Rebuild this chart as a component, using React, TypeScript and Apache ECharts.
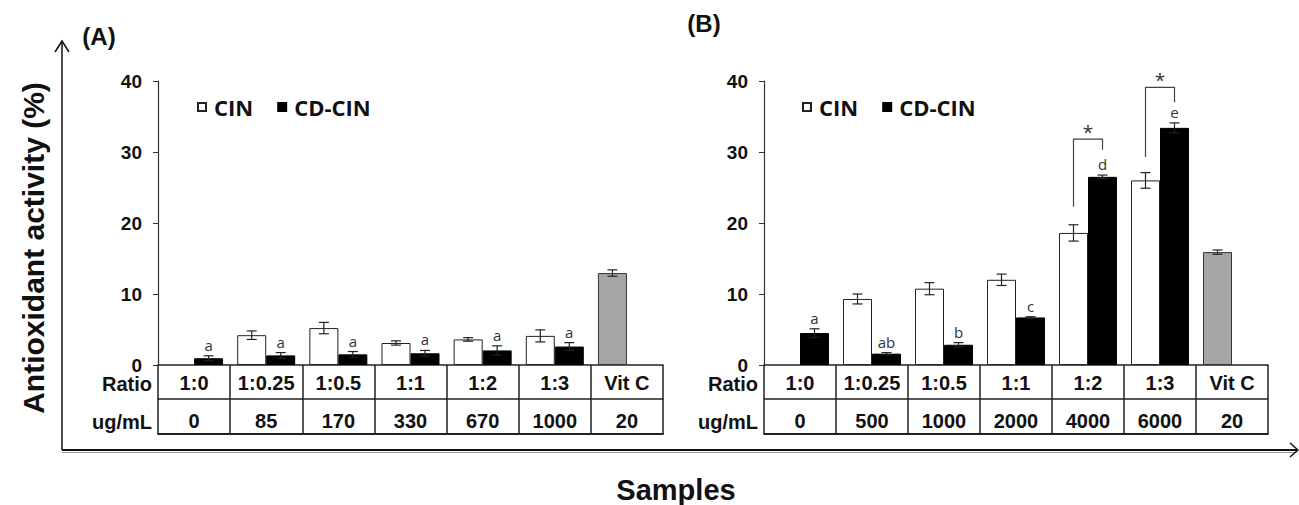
import React, { useEffect, useRef } from 'react';
import * as echarts from 'echarts';

// ---------- data ----------
const ratioLabels = ['1:0', '1:0.25', '1:0.5', '1:1', '1:2', '1:3', 'Vit C'];
const concA = ['0', '85', '170', '330', '670', '1000', '20'];
const concB = ['0', '500', '1000', '2000', '4000', '6000', '20'];

// Panel A
const cinA = [null, 4.2, 5.2, 3.1, 3.6, 4.1];
const cinErrA = [null, 0.6, 0.8, 0.3, 0.25, 0.85];
const cdA = [0.95, 1.35, 1.5, 1.65, 2.05, 2.6];
const cdErrA = [0.35, 0.4, 0.4, 0.4, 0.65, 0.55];
const lettersA = ['a', 'a', 'a', 'a', 'a', 'a'];
const vitCA = 12.95;
const vitCErrA = 0.45;

// Panel B
const cinB = [null, 9.3, 10.75, 12.0, 18.6, 26.0];
const cinErrB = [null, 0.7, 0.85, 0.8, 1.15, 1.1];
const cdB = [4.5, 1.6, 2.85, 6.7, 26.5, 33.4];
const cdErrB = [0.6, 0.15, 0.3, 0.1, 0.25, 0.7];
const lettersB = ['a', 'ab', 'b', 'c', 'd', 'e'];
const vitCB = 15.9;
const vitCErrB = 0.3;

// significance brackets (panel B), in axis units
const sigCats = [4, 5];
const sigFrom = [22.3, 29.3];
const sigTop = [31.8, 39.1];
const sigTo = [30.3, 37.0];

// ---------- styles ----------
const BAR_W = 29;
const HALF = BAR_W / 2;
const LINE = '#222';
const GREY = '#a6a6a6';
const ARIAL = '"Liberation Sans", Arial, sans-serif';
const SANS = '"Open Sans", "Noto Sans", sans-serif';

type Item = { cat: number; mean: number; err: number; side: number; letter: string };

function buildErrItems(cin: (number | null)[], cinErr: (number | null)[], cd: number[], cdErr: number[], letters: string[], vit: number, vitErr: number): Item[] {
  const items: Item[] = [];
  cin.forEach((m, i) => {
    if (m != null) items.push({ cat: i, mean: m, err: cinErr[i] as number, side: -1, letter: '' });
  });
  cd.forEach((m, i) => {
    items.push({ cat: i, mean: m, err: cdErr[i], side: 1, letter: letters[i] });
  });
  items.push({ cat: cin.length, mean: vit, err: vitErr, side: -1, letter: '' });
  return items;
}

function errSeries(items: Item[], xi: number, yi: number) {
  return {
    type: 'custom',
    xAxisIndex: xi,
    yAxisIndex: yi,
    z: 10,
    clip: false,
    silent: true,
    itemStyle: { color: '#333' },
    data: items.map((it) => [it.cat, it.mean, it.err]),
    renderItem: (params: any, api: any) => {
      const it = items[params.dataIndex];
      const c = api.coord([it.cat, it.mean]);
      const x = c[0] + it.side * HALF;
      const yT = api.coord([it.cat, it.mean + it.err])[1];
      const yB = api.coord([it.cat, it.mean - it.err])[1];
      const st = { stroke: LINE, lineWidth: 1.2 };
      const children: any[] = [
        { type: 'line', shape: { x1: x, y1: yT, x2: x, y2: yB }, style: st },
        { type: 'line', shape: { x1: x - 5, y1: yT, x2: x + 5, y2: yT }, style: st },
        { type: 'line', shape: { x1: x - 5, y1: yB, x2: x + 5, y2: yB }, style: st },
      ];
      if (it.letter) {
        children.push({
          type: 'text',
          style: {
            text: it.letter, x, y: yT - 11, align: 'center', verticalAlign: 'middle',
            fontSize: 15, fontFamily: SANS, fill: '#333', stroke: null,
          },
        });
      }
      return { type: 'group', children };
    },
  };
}

function sigSeries(xi: number, yi: number) {
  return {
    type: 'custom',
    xAxisIndex: xi,
    yAxisIndex: yi,
    z: 10,
    clip: false,
    silent: true,
    itemStyle: { color: '#333' },
    data: sigCats.map((c, i) => [c, sigTop[i]]),
    renderItem: (params: any, api: any) => {
      const i = params.dataIndex;
      const cat = sigCats[i];
      const cx = api.coord([cat, 0])[0];
      const xL = cx - HALF;
      const xR = cx + HALF;
      const yF = api.coord([cat, sigFrom[i]])[1];
      const yT = api.coord([cat, sigTop[i]])[1];
      const yE = api.coord([cat, sigTo[i]])[1];
      return {
        type: 'group',
        children: [
          { type: 'polyline', shape: { points: [[xL, yF], [xL, yT], [xR, yT], [xR, yE]] }, style: { stroke: '#444', lineWidth: 1.2, fill: null } },
          { type: 'text', style: { text: '*', x: (xL + xR) / 2, y: yT - 7, align: 'center', verticalAlign: 'middle', fontSize: 19, fontFamily: SANS, fill: '#333', stroke: null } },
        ],
      };
    },
  };
}

function barData(vals: (number | null)[], vit?: number) {
  const d: any[] = vals.map((v) => v);
  if (vit !== undefined) d.push({ value: vit, itemStyle: { color: GREY, borderColor: '#333' } });
  else d.push(null);
  return d;
}

function xAxesFor(grid: number, conc: string[]) {
  const lab = { fontSize: 20, fontWeight: 'bold', color: '#111', fontFamily: ARIAL, interval: 0 };
  return [
    {
      type: 'category', gridIndex: grid, data: ratioLabels, position: 'bottom',
      axisLine: { show: true, lineStyle: { color: LINE, width: 1.5 } },
      axisTick: { show: true, length: 69, interval: 0, lineStyle: { color: LINE, width: 1.5 } },
      axisLabel: { ...lab, margin: 9, lineHeight: 18 },
    },
    {
      type: 'category', gridIndex: grid, data: conc, position: 'bottom', offset: 34,
      axisLine: { show: true, lineStyle: { color: LINE, width: 1.5 } },
      axisTick: { show: false },
      axisLabel: { ...lab, margin: 13, lineHeight: 18 },
    },
    {
      type: 'category', gridIndex: grid, data: conc, position: 'bottom', offset: 69,
      axisLine: { show: true, lineStyle: { color: LINE, width: 1.8 } },
      axisTick: { show: false },
      axisLabel: { show: false },
    },
  ];
}

function yAxisFor(grid: number) {
  return {
    type: 'value', gridIndex: grid, min: 0, max: 40, interval: 10,
    axisLine: { show: true, lineStyle: { color: '#333', width: 1.2 } },
    axisTick: { show: true, length: 5, lineStyle: { color: '#333' } },
    splitLine: { show: false },
    axisLabel: { margin: 16, fontSize: 19, lineHeight: 15, fontWeight: 'bold', color: '#111', fontFamily: ARIAL },
  };
}

function legendFor(left: number) {
  return {
    left, top: 96, padding: 0, orient: 'horizontal',
    data: ['CIN', 'CD-CIN'], icon: 'rect', itemWidth: 8, itemHeight: 8, itemGap: 24,
    selectedMode: false,
    textStyle: { fontSize: 22, fontWeight: 'bold', color: '#111', fontFamily: SANS, padding: [0, 0, 0, 3] },
  };
}

export default function App() {
  const ref = useRef<HTMLDivElement>(null);
  useEffect(() => {
    if (!ref.current) return;
    const chart = echarts.init(ref.current, undefined, { renderer: 'svg' });
    const barBase = { type: 'bar', barWidth: BAR_W, barGap: '0%' };
    const cinStyle = { color: '#fff', borderColor: LINE, borderWidth: 1 };
    const cdStyle = { color: '#000', borderColor: '#000', borderWidth: 1 };
    const itemsA = buildErrItems(cinA, cinErrA, cdA, cdErrA, lettersA, vitCA, vitCErrA);
    const itemsB = buildErrItems(cinB, cinErrB, cdB, cdErrB, lettersB, vitCB, vitCErrB);

    const rowLab = (x: number, y: number, t: string) => ({
      type: 'text', x, y, style: { text: t, align: 'right', verticalAlign: 'middle', fontSize: 20, lineHeight: 16, fontWeight: 'bold', fontFamily: ARIAL, fill: '#111' },
    });

    chart.setOption({
      animation: false,
      backgroundColor: '#fff',
      grid: [
        { left: 158, top: 81, width: 505, height: 284 },
        { left: 764, top: 81, width: 504, height: 284 },
      ],
      xAxis: [...xAxesFor(0, concA), ...xAxesFor(1, concB)],
      yAxis: [yAxisFor(0), yAxisFor(1)],
      legend: [legendFor(197), legendFor(802)],
      series: [
        { ...barBase, name: 'CIN', xAxisIndex: 0, yAxisIndex: 0, itemStyle: cinStyle, data: barData(cinA, vitCA) },
        { ...barBase, name: 'CD-CIN', xAxisIndex: 0, yAxisIndex: 0, itemStyle: cdStyle, data: barData(cdA) },
        { ...barBase, name: 'CIN', xAxisIndex: 3, yAxisIndex: 1, itemStyle: cinStyle, data: barData(cinB, vitCB) },
        { ...barBase, name: 'CD-CIN', xAxisIndex: 3, yAxisIndex: 1, itemStyle: cdStyle, data: barData(cdB) },
        errSeries(itemsA, 0, 0),
        errSeries(itemsB, 3, 1),
        sigSeries(3, 1),
      ],
      graphic: [
        // outer frame axes
        { type: 'line', shape: { x1: 62, y1: 450, x2: 62, y2: 41 }, style: { stroke: '#111', lineWidth: 1.5 } },
        { type: 'polyline', shape: { points: [[55, 52], [62, 41], [69, 52]] }, style: { stroke: '#111', lineWidth: 1.5, fill: null } },
        { type: 'line', shape: { x1: 62, y1: 450, x2: 1297, y2: 450 }, style: { stroke: '#111', lineWidth: 2 } },
        { type: 'line', shape: { x1: 62, y1: 452.5, x2: 1297, y2: 452.5 }, style: { stroke: '#999', lineWidth: 1 } },
        { type: 'polyline', shape: { points: [[1290, 443], [1298, 450], [1290, 457]] }, style: { stroke: '#111', lineWidth: 1.5, fill: null } },
        // panel labels
        { type: 'text', x: 99, y: 36, style: { text: '(A)', align: 'center', verticalAlign: 'middle', fontSize: 24, fontWeight: 'bold', fontFamily: ARIAL, fill: '#111' } },
        { type: 'text', x: 704, y: 23, style: { text: '(B)', align: 'center', verticalAlign: 'middle', fontSize: 24, fontWeight: 'bold', fontFamily: ARIAL, fill: '#111' } },
        // table row labels
        rowLab(152, 384, 'Ratio'),
        rowLab(152, 422, 'ug/mL'),
        rowLab(758, 384, 'Ratio'),
        rowLab(758, 422, 'ug/mL'),
        // axis titles
        { type: 'text', x: 33, y: 248, rotation: Math.PI / 2, style: { text: 'Antioxidant activity (%)', align: 'center', verticalAlign: 'middle', fontSize: 30, fontWeight: 'bold', fontFamily: ARIAL, fill: '#111' } },
        { type: 'text', x: 676, y: 490, style: { text: 'Samples', align: 'center', verticalAlign: 'middle', fontSize: 29, fontWeight: 'bold', fontFamily: ARIAL, fill: '#111' } },
      ],
    });
    return () => chart.dispose();
  }, []);
  return <div ref={ref} style={{ position: 'fixed', left: 0, top: 0, width: 1299, height: 505, background: '#fff' }} />;
}
